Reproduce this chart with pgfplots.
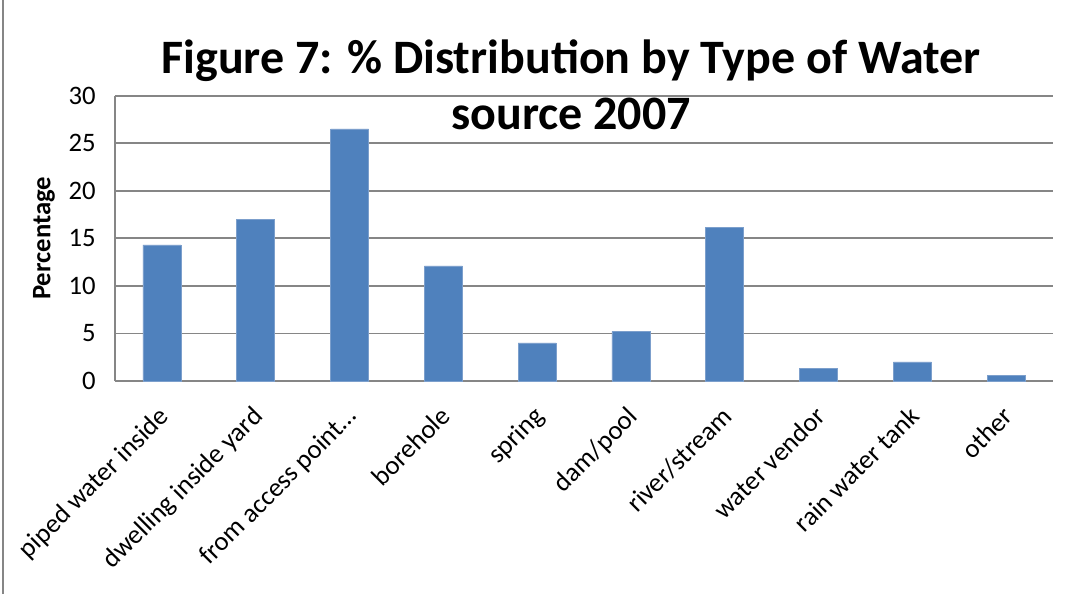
\documentclass[border=0pt]{standalone}
\usepackage{pgfplots}
\pgfplotsset{compat=1.18}
\usepackage{fontspec}
\setmainfont{Carlito}
\definecolor{barblue}{HTML}{4F81BD}
\definecolor{baredge}{HTML}{7C9FCC}
\definecolor{gridgray}{HTML}{868686}
\begin{document}
\begin{tikzpicture}
\useasboundingbox (-86.25pt,-159.75pt) rectangle (716.25pt,285.75pt);
\draw[gridgray,line width=1pt] (-84pt,-159.75pt) -- (-84pt,285.75pt);
\begin{axis}[
  scale only axis,
  width=703.5pt, height=214pt,
  xmin=-0.5, xmax=9.5,
  ymin=0, ymax=30,
  ytick={0,5,...,30},
  xtick=data,
  xticklabels={piped water inside, dwelling inside yard, from access point\ldots, borehole, spring, dam/pool, river/stream, water vendor, rain water tank, other},
  x tick label style={rotate=45, anchor=north east, font=\fontsize{20}{24}\selectfont, inner sep=1pt, xshift=-14pt, yshift=-9pt},
  y tick label style={font=\fontsize{20}{24}\selectfont, xshift=-11pt},
  /pgf/number format/assume math mode=true,
  ymajorgrids,
  major grid style={gridgray, line width=1.4pt},
  axis line style={gridgray, line width=1.4pt},
  axis x line*=bottom,
  axis y line*=left,
  major tick length=0pt,
  ybar,
  bar width=28.5pt,
  ylabel={\textbf{Percentage}},
  ylabel style={font=\fontsize{20}{24}\selectfont, at={(axis description cs:-0.0757,0.5)}, anchor=center},
  clip=false,
]
\addplot[fill=barblue, draw=baredge, line width=0.6pt] coordinates {
(0,14.3) (1,17.0) (2,26.5) (3,12.1) (4,4.0) (5,5.2) (6,16.1) (7,1.3) (8,2.0) (9,0.6)
};
\end{axis}
\node[font=\fontsize{36}{42}\selectfont\bfseries] at (342pt,240pt) {Figure 7: \% Distribution by Type of Water};
\node[font=\fontsize{36}{42}\selectfont\bfseries] at (342pt,200pt) {source 2007};
\end{tikzpicture}
\end{document}
